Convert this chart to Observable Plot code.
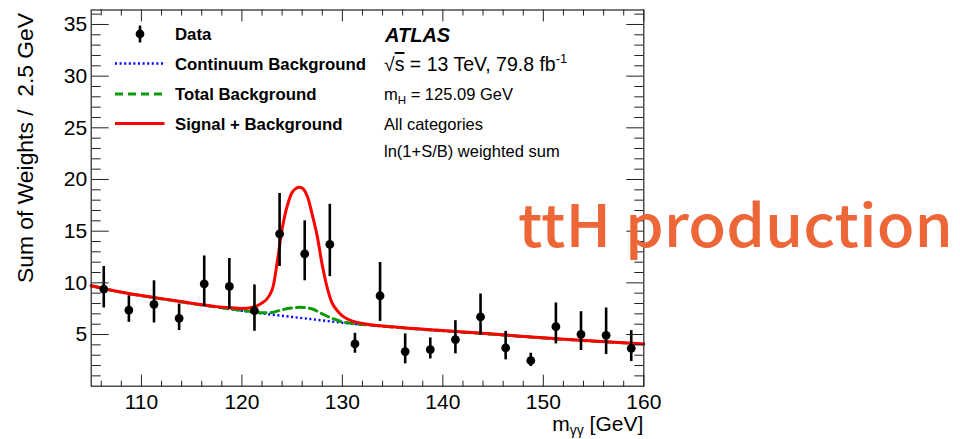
<!DOCTYPE html>
<html>
<head>
<meta charset="utf-8">
<script src="https://cdn.jsdelivr.net/npm/d3@7"></script>
<script src="https://cdn.jsdelivr.net/npm/@observablehq/plot@0.6"></script>
<style>
  html, body { margin: 0; padding: 0; background: #fff; }
  #wrap { position: relative; width: 960px; height: 439px; overflow: hidden; background: #fff; }
  #wrap svg.ov { position: absolute; left: 0; top: 0; pointer-events: none; }
</style>
</head>
<body>
<div id="wrap"></div>
<script>
// ---- Data ----
const binCenters = [106.25, 108.75, 111.25, 113.75, 116.25, 118.75, 121.25, 123.75, 126.25, 128.75, 131.25,
                    133.75, 136.25, 138.75, 141.25, 143.75, 146.25, 148.75, 151.25, 153.75, 156.25, 158.75];
const sumWeights = [9.40, 7.37, 7.92, 6.57, 9.91, 9.65, 7.30, 14.74, 12.80, 13.72, 4.09,
                    8.75, 3.35, 3.54, 4.51, 6.70, 3.70, 2.48, 5.76, 5.02, 4.92, 3.67];
const errLow   = [7.57, 6.18, 6.12, 5.38, 7.70, 7.47, 5.31, 11.58, 10.20, 10.60, 3.19,
                  6.27, 2.16, 2.64, 3.13, 4.96, 2.55, 1.90, 4.09, 3.45, 3.06, 2.38];
const errHigh  = [11.58, 8.75, 10.20, 7.95, 12.60, 12.36, 9.80, 18.65, 16.00, 17.60, 5.12,
                  11.97, 5.06, 4.67, 6.34, 8.92, 5.31, 3.19, 8.05, 7.21, 7.57, 5.38];

// Continuum background
const contX = [105, 107.5, 110, 112.5, 115, 117.5, 120, 122.5, 125, 127.5, 130, 132.5, 135, 137.5,
               140, 142.5, 145, 147.5, 150, 152.5, 155, 157.5, 160];
const contY = [9.72, 9.18, 8.75, 8.38, 8.00, 7.65, 7.30, 6.98, 6.70, 6.42, 6.14, 5.92, 5.72, 5.53,
               5.36, 5.19, 5.02, 4.84, 4.66, 4.51, 4.36, 4.22, 4.08];
// Total background
const totX = [105, 107.5, 110, 112.5, 115, 117.5, 120, 121, 122, 123, 124, 125, 125.75, 126.5, 127, 128,
              129, 130, 131, 132.5, 135, 137.5, 140, 142.5, 145, 147.5, 150, 152.5, 155, 157.5, 160];
const totY = [9.72, 9.18, 8.75, 8.38, 8.00, 7.66, 7.33, 7.20, 7.10, 7.14, 7.40, 7.57, 7.63, 7.58, 7.47, 7.00,
              6.56, 6.22, 6.06, 5.94, 5.73, 5.53, 5.36, 5.19, 5.02, 4.84, 4.66, 4.51, 4.36, 4.22, 4.08];
// Signal + background
const sbX = [105, 107.5, 110, 112.5, 115, 117.5, 119, 120, 121, 121.5, 122, 122.5, 123, 123.5, 124, 124.5,
             125, 125.4, 125.75, 126.1, 126.5, 127, 127.5, 128, 128.5, 129, 129.5, 130, 130.5, 131, 132, 133, 134,
             135, 137.5, 140, 142.5, 145, 147.5, 150, 152.5, 155, 157.5, 160];
const sbY = [9.72, 9.19, 8.77, 8.40, 8.03, 7.70, 7.58, 7.52, 7.62, 7.78, 8.05, 8.45, 9.30, 11.9, 15.2, 17.4,
             18.75, 19.15, 19.25, 19.1, 18.4, 16.6, 14.5, 11.7, 9.5, 8.0, 7.3, 6.8, 6.5, 6.3, 6.06, 5.93, 5.83,
             5.75, 5.55, 5.38, 5.21, 5.04, 4.86, 4.68, 4.52, 4.38, 4.23, 4.09];

// Tick values
const xMajor = [110, 120, 130, 140, 150, 160];
const xMinor = [106, 108, 112, 114, 116, 118, 122, 124, 126, 128, 132, 134, 136, 138, 142, 144, 146, 148, 152, 154, 156, 158];
const yMajor = [5, 10, 15, 20, 25, 30, 35];
const yMinor = [1, 2, 3, 4, 6, 7, 8, 9, 11, 12, 13, 14, 16, 17, 18, 19, 21, 22, 23, 24, 26, 27, 28, 29, 31, 32, 33, 34, 36];

// ---- Build tables ----
const points = binCenters.map((x, i) => ({x, y: sumWeights[i], lo: errLow[i], hi: errHigh[i]}));
const cont = contX.map((x, i) => ({x, y: contY[i]}));
const tot = totX.map((x, i) => ({x, y: totY[i]}));
const sb = sbX.map((x, i) => ({x, y: sbY[i]}));

const tickColor = "#222";
const chart = Plot.plot({
  width: 960,
  height: 439,
  marginLeft: 90.7,
  marginRight: 316.7,
  marginTop: 9.5,
  marginBottom: 53.3,
  x: {domain: [105, 160]},
  y: {domain: [0, 36.4]},
  style: {fontFamily: "'Liberation Sans', Arial, Helvetica, sans-serif", fontSize: "21px", color: "#000", background: "#fff"},
  marks: [
    // curves
    Plot.line(cont, {x: "x", y: "y", stroke: "#0000ff", strokeWidth: 2.4, strokeDasharray: "2,2.6", strokeLinecap: "butt", curve: "monotone-x"}),
    Plot.line(tot, {x: "x", y: "y", stroke: "#0a9a0a", strokeWidth: 3, strokeDasharray: "8,5", curve: "monotone-x"}),
    Plot.line(sb, {x: "x", y: "y", stroke: "#ff0000", strokeWidth: 3, curve: "catmull-rom"}),
    // data
    Plot.ruleX(points, {x: "x", y1: "lo", y2: "hi", stroke: "#000", strokeWidth: 2.6}),
    Plot.dot(points, {x: "x", y: "y", r: 4.4, fill: "#000", stroke: "none"}),
    // frame
    Plot.frame({stroke: tickColor, strokeWidth: 1.2}),
    // tick labels
    Plot.axisX({ticks: xMajor, tickSize: 0, tickPadding: 7.7, tickFormat: d => String(d), label: null, fontSize: 21}),
    Plot.axisY({ticks: yMajor, tickSize: 0, tickPadding: 4, tickFormat: d => String(d), label: null, fontSize: 21}),
    // inward ticks: bottom
    Plot.axisX({anchor: "top", frameAnchor: "bottom", ticks: xMajor, tickSize: 12, fill: "none", label: null, stroke: tickColor}),
    Plot.axisX({anchor: "top", frameAnchor: "bottom", ticks: xMinor, tickSize: 6, fill: "none", label: null, stroke: tickColor}),
    // top
    Plot.axisX({anchor: "bottom", frameAnchor: "top", ticks: xMajor, tickSize: 12, fill: "none", label: null, stroke: tickColor}),
    Plot.axisX({anchor: "bottom", frameAnchor: "top", ticks: xMinor, tickSize: 6, fill: "none", label: null, stroke: tickColor}),
    // left
    Plot.axisY({anchor: "right", frameAnchor: "left", ticks: yMajor, tickSize: 17, fill: "none", label: null, stroke: tickColor}),
    Plot.axisY({anchor: "right", frameAnchor: "left", ticks: yMinor, tickSize: 9, fill: "none", label: null, stroke: tickColor}),
    // right
    Plot.axisY({anchor: "left", frameAnchor: "right", ticks: yMajor, tickSize: 17, fill: "none", label: null, stroke: tickColor}),
    Plot.axisY({anchor: "left", frameAnchor: "right", ticks: yMinor, tickSize: 9, fill: "none", label: null, stroke: tickColor})
  ]
});

const wrap = document.getElementById("wrap");
wrap.appendChild(chart);

// ---- Overlay: titles, legend, annotations ----
const NS = "http://www.w3.org/2000/svg";
const ov = document.createElementNS(NS, "svg");
ov.setAttribute("class", "ov");
ov.setAttribute("width", 960);
ov.setAttribute("height", 439);
ov.setAttribute("font-family", "'Liberation Sans', Arial, Helvetica, sans-serif");
ov.innerHTML = `
  <!-- axis titles -->
  <text transform="translate(33.3,13) rotate(-90)" text-anchor="end" font-size="22" style="white-space:pre" textLength="270" lengthAdjust="spacingAndGlyphs">Sum of Weights /  2.5 GeV</text>
  <text x="643.3" y="430.5" text-anchor="end" font-size="21">m<tspan font-size="14" dy="4">γγ</tspan><tspan dy="-4"> [GeV]</tspan></text>

  <!-- legend -->
  <line x1="140" x2="140" y1="25.5" y2="42.5" stroke="#000" stroke-width="2.6"/>
  <circle cx="140" cy="34" r="4.4" fill="#000"/>
  <line x1="115" x2="164.5" y1="63.5" y2="63.5" stroke="#0000ff" stroke-width="2.4" stroke-dasharray="2,2.6"/>
  <line x1="115" x2="164.5" y1="94" y2="94" stroke="#0a9a0a" stroke-width="3" stroke-dasharray="8,5"/>
  <line x1="115" x2="164.5" y1="123.5" y2="123.5" stroke="#ff0000" stroke-width="3"/>
  <g font-size="16.8" font-weight="bold">
    <text x="175" y="40">Data</text>
    <text x="175" y="70">Continuum Background</text>
    <text x="175" y="100">Total Background</text>
    <text x="175" y="130">Signal + Background</text>
  </g>

  <!-- ATLAS labels -->
  <text x="385" y="41.5" font-size="20" font-weight="bold" font-style="italic">ATLAS</text>
  <text x="384" y="71" font-size="19.5">√<tspan text-decoration="overline">s</tspan> = 13 TeV, 79.8 fb<tspan font-size="13" dy="-8">-1</tspan></text>
  <text x="384" y="100" font-size="16.5">m<tspan font-size="11.5" dy="4">H</tspan><tspan dy="-4"> = 125.09 GeV</tspan></text>
  <text x="384" y="130" font-size="16.5">All categories</text>
  <text x="384" y="157" font-size="16.5">ln(1+S/B) weighted sum</text>

  <!-- big annotation -->
  <text x="518" y="246.5" font-size="58" font-weight="500" fill="#ED6637"
        font-family="'Noto Sans CJK JP', 'Noto Sans', sans-serif"
        textLength="435" lengthAdjust="spacingAndGlyphs">ttH production</text>
`;
wrap.appendChild(ov);
</script>
</body>
</html>
